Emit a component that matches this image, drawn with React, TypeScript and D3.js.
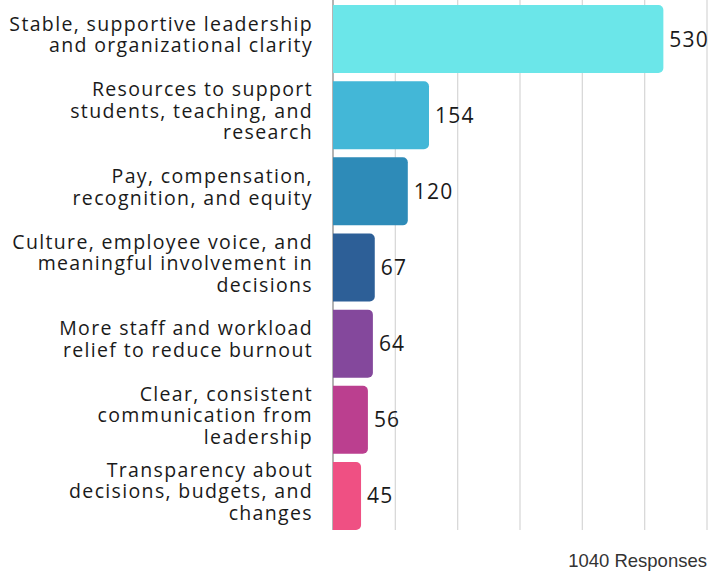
import React from "react";
import * as d3 from "d3";

const categories: string[][] = [
  ["Stable, supportive leadership", "and organizational clarity"],
  ["Resources to support", "students, teaching, and", "research"],
  ["Pay, compensation,", "recognition, and equity"],
  ["Culture, employee voice, and", "meaningful involvement in", "decisions"],
  ["More staff and workload", "relief to reduce burnout"],
  ["Clear, consistent", "communication from", "leadership"],
  ["Transparency about", "decisions, budgets, and", "changes"],
];
const values: number[] = [530, 154, 120, 67, 64, 56, 45];
const colors: string[] = ["#6be6e9", "#43b7d7", "#2e8bb8", "#2d5f97", "#84489c", "#bb3f8f", "#ef5083"];
const gridTicks: number[] = [100, 200, 300, 400, 500, 600];
const footnote = "1040 Responses";

const W = 710;
const H = 574;
const X0 = 333;
const X1 = 707;
const PLOT_TOP = 0;
const PLOT_BOTTOM = 530;
const LABEL_FONT = "'Open Sans', sans-serif";

function barPath(x0: number, y: number, w: number, h: number, r: number) {
  const rr = Math.min(r, w, h / 2);
  const p = d3.path();
  p.moveTo(x0, y);
  p.lineTo(x0 + w - rr, y);
  p.arcTo(x0 + w, y, x0 + w, y + rr, rr);
  p.lineTo(x0 + w, y + h - rr);
  p.arcTo(x0 + w, y + h, x0 + w - rr, y + h, rr);
  p.lineTo(x0, y + h);
  p.closePath();
  return p.toString();
}

export default function App() {
  const x = d3.scaleLinear().domain([0, 600]).range([X0, X1]);
  const y = d3
    .scaleBand<number>()
    .domain(d3.range(values.length))
    .range([1, 534])
    .paddingInner(0.107)
    .paddingOuter(0.053);
  const lh = 21.5;

  return (
    <svg width={W} height={H} style={{ position: "absolute", left: 0, top: 0, background: "#fff" }}>
      {gridTicks.map((t) => (
        <line key={t} x1={x(t)} x2={x(t)} y1={PLOT_TOP} y2={PLOT_BOTTOM} stroke="#d9d9d9" strokeWidth={1.3} />
      ))}
      <line x1={X0} x2={X0} y1={PLOT_TOP} y2={PLOT_BOTTOM} stroke="#8c8c8c" strokeWidth={1.3} />
      {values.map((v, i) => {
        const by = y(i)!;
        const bh = y.bandwidth();
        const bw = x(v) - x(0);
        const cy = by + bh / 2;
        const lines = categories[i];
        return (
          <g key={i}>
            <path d={barPath(x(0), by, bw, bh, 5)} fill={colors[i]} />
            <text x={x(v) + 6} y={cy + 7.5} fontFamily={LABEL_FONT} fontSize={21} letterSpacing={1.2} fill="#1a1a1a">
              {v}
            </text>
            <text textAnchor="end" fontFamily={LABEL_FONT} fontSize={19.5} letterSpacing={1.35} fill="#1a1a1a">
              {lines.map((ln, j) => (
                <tspan key={j} x={313} y={cy + (j - (lines.length - 1) / 2) * lh + 2.5}>
                  {ln}
                </tspan>
              ))}
            </text>
          </g>
        );
      })}
      <text x={707} y={567} textAnchor="end" fontFamily="'Liberation Sans', Arial, sans-serif" fontSize={18.5} fill="#333">
        {footnote}
      </text>
    </svg>
  );
}
